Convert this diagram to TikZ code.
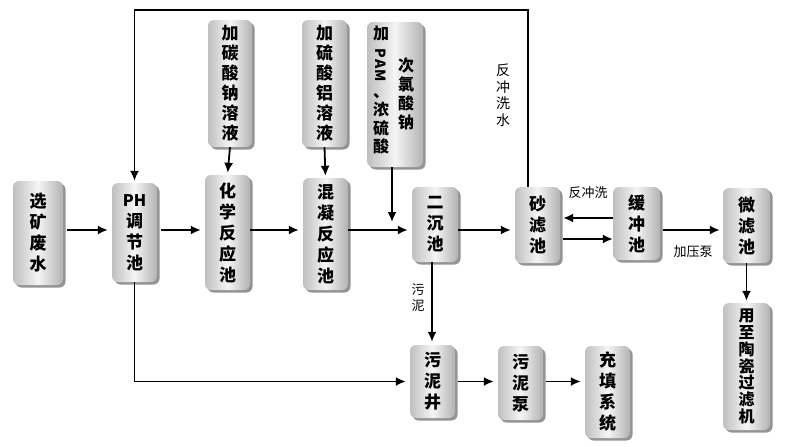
\documentclass[tikz,border=0pt]{standalone}
\usepackage{fontspec}
\newfontfamily\cjk{Noto Sans CJK SC}
\usetikzlibrary{arrows.meta,shadows,calc}
\tikzset{
  box/.style={draw=none, rounded corners=6pt, left color=gray!50, right color=gray!60, middle color=gray!8,
    drop shadow={shadow xshift=2.5pt, shadow yshift=-2.5pt, fill=black!70, opacity=0.6},
    align=center, inner sep=0pt, font=\cjk\bfseries\fontsize{17}{21}\selectfont},
  arr/.style={line width=1.8pt, -{Latex[length=10pt,width=9pt]}},
  lbl/.style={font=\cjk\fontsize{13}{15}\selectfont, inner sep=0pt, align=center},
  txt/.style={font=\cjk\bfseries\fontsize{16}{19}\selectfont, inner sep=0pt, align=center},
  pam/.style={font=\cjk\bfseries\fontsize{14}{14}\selectfont, inner sep=0pt, rotate=-90}
}
\begin{document}
\begin{tikzpicture}[x=1pt,y=-1pt]
\useasboundingbox (0,0) rectangle (803,447);
% boxes
\node[box, minimum width=50pt, minimum height=104pt] (a) at (38,233) {选\\矿\\废\\水};
\node[box, minimum width=45pt, minimum height=99pt] (b) at (134.5,232.5) {{\fontsize{16}{16}\selectfont\textbf{PH}}\\调\\节\\池};
\node[box, minimum width=45pt, minimum height=115pt] (c) at (227.5,232.5) {化\\学\\反\\应\\池};
\node[box, minimum width=45pt, minimum height=112pt] (d) at (325.5,234) {混\\凝\\反\\应\\池};
\node[box, minimum width=44pt, minimum height=127pt, font=\cjk\bfseries\fontsize{17}{20}\selectfont] (e) at (230,83.5) {加\\碳\\酸\\钠\\溶\\液};
\node[box, minimum width=45pt, minimum height=127pt, font=\cjk\bfseries\fontsize{17}{20}\selectfont] (f) at (324.5,83.5) {加\\硫\\酸\\铝\\溶\\液};
\node[box, minimum width=56pt, minimum height=145pt] (g) at (395,94.5) {};
\node[txt] (g1) at (381,34) {加};
\node[pam] (gp) at (381,53) {P};
\node[pam] (ga) at (381,64) {A};
\node[pam] (gm) at (381,76) {M};
\node[txt, font=\cjk\bfseries\fontsize{16}{18.5}\selectfont] (g3) at (381,124) {、\\浓\\硫\\酸};
\node[txt] (g4) at (406,94) {次\\氯\\酸\\钠};
\node[box, minimum width=46pt, minimum height=75pt] (h) at (435,224.5) {二\\沉\\池};
\node[box, minimum width=45pt, minimum height=76pt] (i) at (537.5,225) {砂\\滤\\池};
\node[box, minimum width=47pt, minimum height=73pt] (j) at (636.5,223.5) {缓\\冲\\池};
\node[box, minimum width=47pt, minimum height=75pt] (k) at (746.5,225.5) {微\\滤\\池};
\node[box, minimum width=45pt, minimum height=73pt] (l) at (432.5,381.5) {污\\泥\\井};
\node[box, minimum width=45pt, minimum height=74pt] (m) at (520.5,383) {污\\泥\\泵};
\node[box, minimum width=45pt, minimum height=92pt] (n) at (607.5,392) {充\\填\\系\\统};
\node[box, minimum width=47pt, minimum height=127pt, font=\cjk\bfseries\fontsize{16}{16.8}\selectfont] (o) at (746.5,366.5) {用\\至\\陶\\瓷\\过\\滤\\机};
% labels
\node[lbl] (t1) at (588,193) {反冲洗};
\node[lbl] (t2) at (693,252) {加压泵};
\node[lbl, font=\cjk\fontsize{13}{16}\selectfont] (t3) at (418,298) {污\\泥};
\node[lbl, font=\cjk\fontsize{14}{16.5}\selectfont] (t4) at (503,95) {反\\冲\\洗\\水};
% coordinates
\coordinate (ym) at (0,230);
\coordinate (ytop) at (0,10);
\coordinate (xs) at (528,0);
\coordinate (xp) at (392,0);
\coordinate (xh) at (432,0);
\coordinate (yb1) at (0,218);
\coordinate (yb2) at (0,239);
\coordinate (ypam) at (0,222);
% connectors
\draw[arr, shorten <=4pt, shorten >=4pt] (a.east |- ym) -- (b.west |- ym);
\draw[arr, shorten <=4pt, shorten >=4pt] (b.east |- ym) -- (c.west |- ym);
\draw[arr, shorten >=4pt] (c.east |- ym) -- (d.west |- ym);
\draw[arr, shorten >=4pt] (d.east |- ym) -- (h.west |- ym);
\draw[arr, shorten >=4pt] (h.east |- ym) -- (i.west |- ym);
\draw[arr, shorten >=2pt] (e.south) -- (c.north);
\draw[arr, shorten >=2pt] (f.south) -- (d.north);
\draw[arr] (g.south -| xp) -- (xp |- ypam);
\draw[arr, shorten >=2pt] (i.north -| xs) -- (xs |- ytop) -| (b.north);
\draw[arr, shorten >=3pt] (j.west |- yb1) -- (i.east |- yb1);
\draw[arr, shorten <=3pt] (i.east |- yb2) -- (j.west |- yb2);
\draw[arr, shorten <=3pt, shorten >=3pt] (j.east |- ym) -- (k.west |- ym);
\draw[arr, shorten >=2pt] (k.south) -- (o.north);
\draw[arr, shorten >=3pt] (h.south -| xh) -- (l.north -| xh);
\draw[arr, shorten >=4pt] (b.south) |- (l.west);
\draw[arr, shorten <=3pt, shorten >=4pt] (l.east) -- (m.west |- l.east);
\draw[arr, shorten <=3pt, shorten >=4pt] (m.east |- l.east) -- (n.west |- l.east);
\end{tikzpicture}
\end{document}
